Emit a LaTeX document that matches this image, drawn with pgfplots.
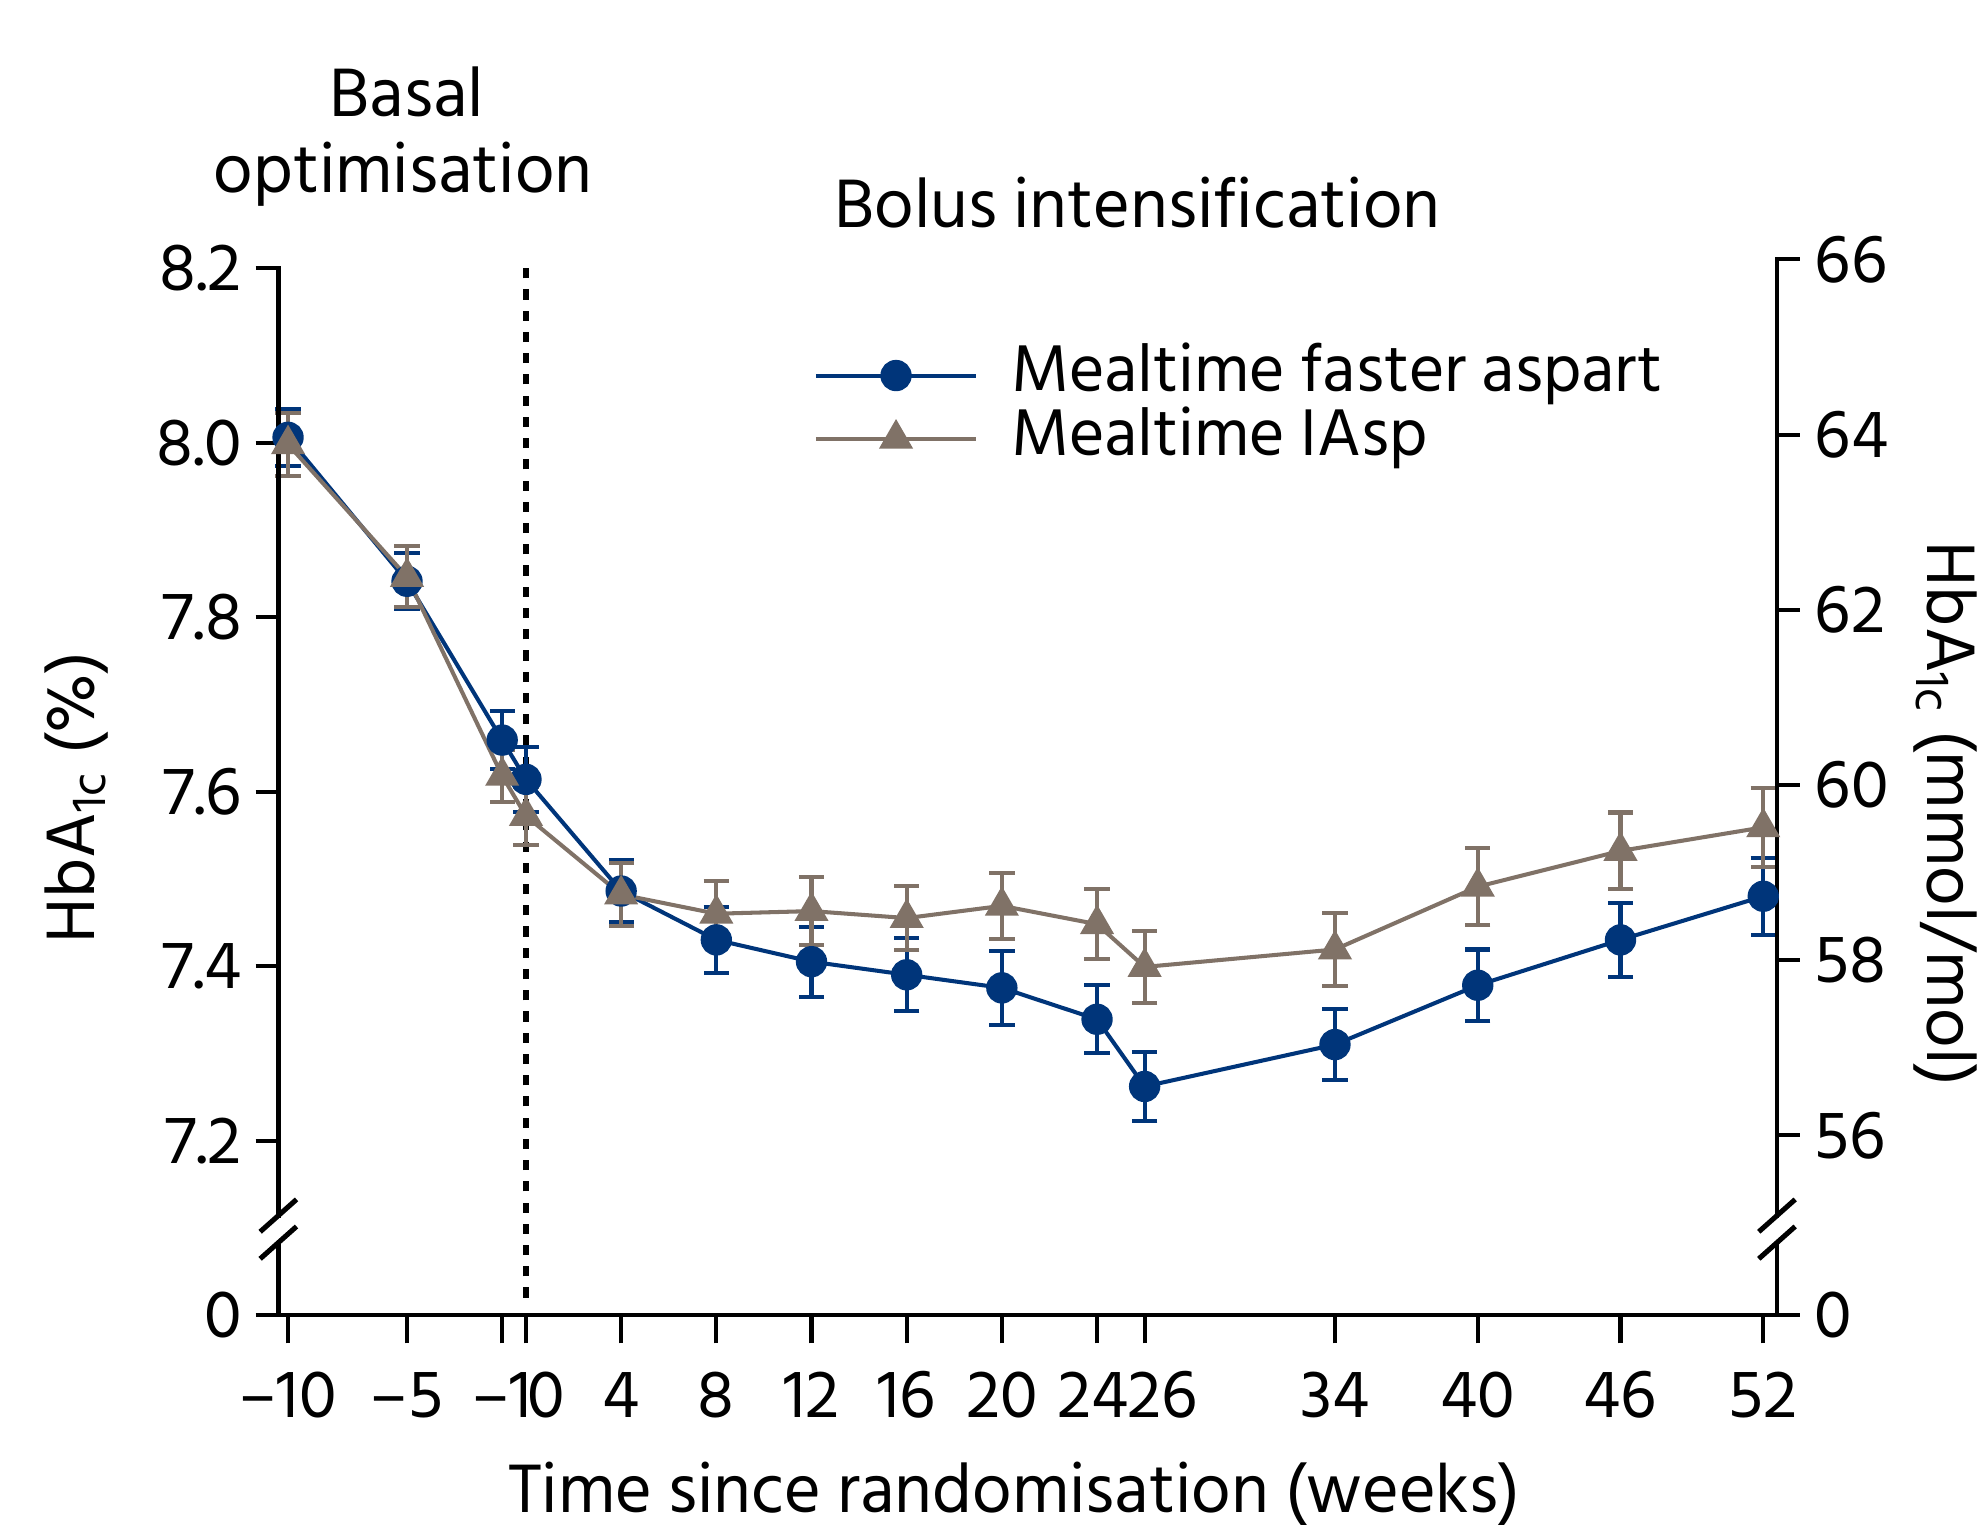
\documentclass[border=0pt]{standalone}
\usepackage{fontspec}
\setmainfont{Hind Siliguri}
\usepackage{pgfplots}
\pgfplotsset{compat=1.18}

\definecolor{fablue}{RGB}{0,53,122}
\definecolor{iasp}{RGB}{128,114,103}

\pgfplotsset{
  hba/.style={
    scale only axis, width=296.4pt, height=208.8pt,
    at={(55.05pt,41.4pt)}, anchor=south west,
    xmin=-10.408, xmax=52.576, clip=false,
    /pgf/number format/assume math mode=true,
    ticklabel style={font=\fontsize{13.6}{15}\selectfont},
    tick align=outside,
    tick style={black, line width=0.8pt},
  }
}

\begin{document}
\begin{tikzpicture}

% left scale (%)
\begin{axis}[hba, ymin=7, ymax=8.21,
  axis x line=none, axis y line*=left,
  y axis line style={draw=none},
  major tick length=4.5pt,
  ytick={7,7.2,7.4,7.6,7.8,8,8.2},
  yticklabels={0,7.2,7.4,7.6,7.8,8.0,8.2},
  yticklabel style={anchor=east, inner xsep=0pt},
  yticklabel shift=2.5pt]
\end{axis}

% right scale (mmol/mol)
\begin{axis}[hba, ymin=53.95, ymax=66,
  axis x line=none, axis y line*=right,
  y axis line style={draw=none},
  major tick length=4.5pt,
  ytick={53.95,56,58,60,62,64,66},
  yticklabels={0,56,58,60,62,64,66},
  yticklabel style={anchor=west, inner xsep=0pt},
  yticklabel shift=2.8pt]
\end{axis}

% data
\begin{axis}[hba, ymin=7, ymax=8.21,
  axis y line=none, axis x line*=bottom,
  x axis line style={-, line width=0.9pt},
  major tick length=5.6pt,
  xtick={-10,-5,-1,0,4,8,12,16,20,24,26,34,40,46,52},
  xticklabels={–10,–5,–1,\hspace*{8pt}0,4,8,12,16,20,\hspace*{-1.5pt}24,\hspace*{7pt}26,34,40,46,52},
  xticklabel style={anchor=base},
  xticklabel shift=14.65pt,
  legend cell align=left,
  legend image code/.code={\draw[mark repeat=2,mark phase=2,#1] plot coordinates {(0pt,0pt) (15.875pt,0pt) (31.75pt,0pt)};},
  legend style={at={(0.3566,0.860)}, anchor=west, draw=none, fill=none,
    inner sep=0pt, font=\fontsize{13.4}{15}\selectfont,
    nodes={inner sep=0pt, text height=9.5pt, text depth=3pt},
    /tikz/every odd column/.append style={column sep=6.5pt}},
  ]

\addplot[forget plot, black, line width=1pt, dash pattern=on 2pt off 2.2pt]
  coordinates {(0,7.02) (0,8.2)};

\addplot[fablue, line width=0.8pt, mark=*, mark size=2.7pt,
  error bars/.cd, y dir=both, y explicit,
  error bar style={line width=0.8pt},
  error mark options={rotate=90, mark size=2.5pt, line width=0.8pt}]
  table[x index=0, y index=1, y error index=2] {
-10 8.006 0.033
-5  7.841 0.032
-1  7.659 0.033
0   7.614 0.037
4   7.486 0.036
8   7.430 0.038
12  7.405 0.040
16  7.390 0.042
20  7.375 0.042
24  7.339 0.039
26  7.262 0.040
34  7.310 0.041
40  7.378 0.041
46  7.430 0.042
52  7.480 0.044
};
\addlegendentry{Mealtime faster aspart}

\addplot[iasp, line width=0.8pt, mark=triangle*, mark size=3.1pt,
  error bars/.cd, y dir=both, y explicit,
  error bar style={line width=0.8pt},
  error mark options={rotate=90, mark size=2.5pt, line width=0.8pt}]
  table[x index=0, y index=1, y error index=2] {
-10 7.998 0.036
-5  7.846 0.035
-1  7.618 0.030
0   7.572 0.033
4   7.482 0.036
8   7.460 0.037
12  7.463 0.039
16  7.455 0.037
20  7.469 0.038
24  7.448 0.040
26  7.399 0.041
34  7.419 0.042
40  7.491 0.044
46  7.532 0.044
52  7.559 0.045
};
\addlegendentry{Mealtime IAsp}

% broken y axis lines
\draw[line width=0.9pt, line cap=rect] (axis cs:-10.408,8.2) -- (axis cs:-10.408,7.114);
\draw[line width=0.9pt] (axis cs:-10.408,7.083) -- (axis cs:-10.408,7);
\draw[line width=1pt] ([shift={(-3.6pt,-3.2pt)}]axis cs:-10.408,7.114) -- ++(7.2pt,6.4pt);
\draw[line width=1pt] ([shift={(-3.6pt,-3.2pt)}]axis cs:-10.408,7.083) -- ++(7.2pt,6.4pt);
\draw[line width=0.9pt, line cap=rect] (axis cs:52.576,8.21) -- (axis cs:52.576,7.114);
\draw[line width=0.9pt] (axis cs:52.576,7.083) -- (axis cs:52.576,7);
\draw[line width=1pt] ([shift={(-3.6pt,-3.2pt)}]axis cs:52.576,7.114) -- ++(7.2pt,6.4pt);
\draw[line width=1pt] ([shift={(-3.6pt,-3.2pt)}]axis cs:52.576,7.083) -- ++(7.2pt,6.4pt);
\end{axis}

% texts
\begin{scope}[every node/.style={font=\fontsize{13.9}{15}\selectfont, inner sep=0pt}]
\node[anchor=base] at (80.5pt,278.5pt) {Basal};
\node[anchor=base] at (79.75pt,263.5pt) {optimisation};
\node[anchor=base] at (225pt,256.5pt) {Bolus intensification};
\node[anchor=base] at (200.6pt,2.3pt) {Time since randomisation (weeks)};
\node[anchor=base, rotate=90] at (18.75pt,143.75pt) {HbA\textsubscript{1c} (\%)};
\node[anchor=base, rotate=-90] at (381.25pt,140.5pt) {HbA\textsubscript{1c} (mmol/mol)};
\end{scope}

\pgfresetboundingbox
\useasboundingbox (0,0) rectangle (392pt,301.5pt);
\end{tikzpicture}
\end{document}
